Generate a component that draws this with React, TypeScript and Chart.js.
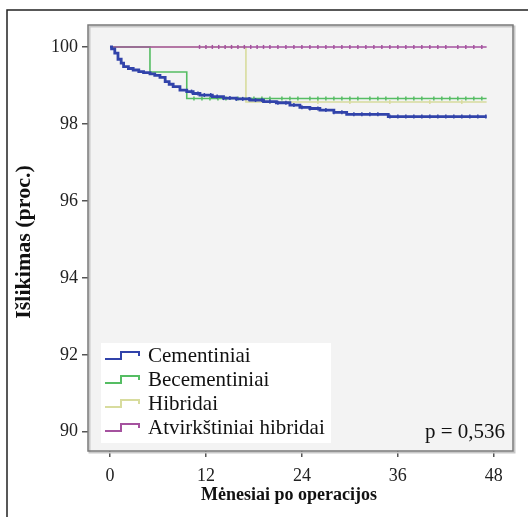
import React, { useEffect, useRef } from 'react';
import { Chart, registerables } from 'chart.js';
Chart.register(...registerables);

// ---- data ----
const xTicks = [0, 12, 24, 36, 48];
const yTicks = [90, 92, 94, 96, 98, 100];

const seriesNames = ['Cementiniai', 'Becementiniai', 'Hibridai', 'Atvirkštiniai hibridai'];
const seriesColors = ['#3143aa', '#55bd63', '#d8dc9e', '#a5529f'];

const cemMonths = [0, 0.2, 0.6, 1.0, 1.4, 1.7, 2.3, 2.9, 3.6, 4.2, 5.0, 5.6, 6.25, 6.9, 7.4, 7.9, 8.75, 9.6, 10.4, 11.25, 12.8, 14.2, 15.8, 17.5, 19.2, 20.8, 22.5, 23.75, 25.0, 26.25, 28.0, 29.6, 34.8, 47.1];
const cemSurvival = [100, 99.95, 99.84, 99.68, 99.58, 99.49, 99.44, 99.4, 99.36, 99.33, 99.3, 99.26, 99.21, 99.1, 99.03, 98.97, 98.88, 98.84, 98.79, 98.75, 98.71, 98.67, 98.65, 98.62, 98.58, 98.55, 98.49, 98.43, 98.4, 98.36, 98.3, 98.25, 98.19, 98.19];
const cemCensored = [10.2, 11, 11.8, 12.6, 13.4, 14.2, 15, 15.8, 16.6, 17.4, 18.2, 19, 20, 21, 22, 23, 24, 25, 26, 27, 28, 29, 30.5, 31.5, 32.5, 33.5, 35, 36, 37, 38, 39, 40, 41, 42, 43, 44, 45, 46, 47];

const becMonths = [0, 5, 9.6, 47.1];
const becSurvival = [100, 99.35, 98.66, 98.66];
const becCensored = [10.5, 11.5, 12.5, 13.5, 14.5, 16, 18, 19, 20, 21.5, 22.5, 23.5, 25, 26, 27, 28, 29, 30, 31, 32.5, 33.5, 34.5, 36, 37, 38, 39, 40.5, 41.5, 42.5, 43.5, 44.5, 45.5, 46.5];

const hibMonths = [0, 17, 47.1];
const hibSurvival = [100, 98.57, 98.57];
const hibCensored = [20, 26, 30, 35, 40, 44];

const atvMonths = [0, 47.1];
const atvSurvival = [100, 100];
const atvCensored = [11.2, 12, 12.8, 13.6, 14.4, 15.2, 16, 16.8, 17.6, 18.4, 19.2, 20, 21, 22, 23, 24, 25, 26, 27, 28, 29, 30, 31, 32, 33, 34, 35, 36, 37, 38, 39, 40, 41, 42, 43.5, 44.5, 45.5, 46.5];

const pValueText = 'p = 0,536';
const xTitle = 'Mėnesiai po operacijos';
const yTitle = 'Išlikimas (proc.)';

const SERIF = '"Liberation Serif", "DejaVu Serif", serif';

function stepValue(months: number[], surv: number[], t: number) {
  let v = surv[0];
  for (let i = 0; i < months.length; i++) if (months[i] <= t) v = surv[i];
  return v;
}

const allSeries = [
  { m: cemMonths, s: cemSurvival, c: cemCensored, width: 2.8, order: 0 },
  { m: becMonths, s: becSurvival, c: becCensored, width: 1.6, order: 2 },
  { m: hibMonths, s: hibSurvival, c: hibCensored, width: 1.6, order: 3 },
  { m: atvMonths, s: atvSurvival, c: atvCensored, width: 1.6, order: 1 },
];

const overlay = {
  id: 'overlay',
  beforeDraw(chart: any) {
    const { ctx, chartArea: a } = chart;
    ctx.save();
    ctx.fillStyle = '#ffffff';
    ctx.fillRect(0, 0, chart.width, chart.height);
    ctx.fillStyle = '#f3f3f3';
    ctx.fillRect(a.left, a.top, a.right - a.left, a.bottom - a.top);
    // outer frame
    ctx.strokeStyle = '#222';
    ctx.lineWidth = 1.5;
    ctx.beginPath();
    ctx.moveTo(7, chart.height);
    ctx.lineTo(7, 10);
    ctx.lineTo(chart.width, 10);
    ctx.stroke();
    ctx.restore();
  },
  afterDraw(chart: any) {
    const { ctx, chartArea: a } = chart;
    ctx.save();
    // plot box
    ctx.strokeStyle = '#c8c8c8';
    ctx.lineWidth = 2;
    ctx.strokeRect(a.left + 1.5, a.top + 1.5, a.right - a.left, a.bottom - a.top);
    ctx.strokeStyle = '#7a7a7a';
    ctx.lineWidth = 1.5;
    ctx.strokeRect(a.left, a.top, a.right - a.left, a.bottom - a.top);

    // legend
    const lx = a.left + 13;
    const ly = a.top + 318;
    ctx.fillStyle = '#ffffff';
    ctx.fillRect(lx, ly, 230, 100);
    ctx.font = `21px ${SERIF}`;
    ctx.textBaseline = 'middle';
    ctx.textAlign = 'left';
    seriesNames.forEach((name, i) => {
      const cy = ly + 12 + i * 24;
      ctx.strokeStyle = seriesColors[i];
      ctx.lineWidth = 2;
      ctx.beginPath();
      ctx.moveTo(lx + 4, cy + 4);
      ctx.lineTo(lx + 20, cy + 4);
      ctx.lineTo(lx + 20, cy - 3);
      ctx.lineTo(lx + 38, cy - 3);
      ctx.lineTo(lx + 38, cy + 1);
      ctx.stroke();
      ctx.fillStyle = '#111';
      ctx.fillText(name, lx + 47, cy + 1);
    });

    // p value
    ctx.textAlign = 'right';
    ctx.fillStyle = '#111';
    ctx.fillText(pValueText, a.right - 8, a.bottom - 19);

    // axis titles
    ctx.font = `bold 18px ${SERIF}`;
    ctx.textAlign = 'center';
    ctx.fillText(xTitle, 289, 495);
    ctx.font = `bold 22px ${SERIF}`;
    ctx.translate(24, 242);
    ctx.rotate(-Math.PI / 2);
    ctx.fillText(yTitle, 0, 0);
    ctx.restore();
  },
};

export default function App() {
  const ref = useRef<HTMLCanvasElement>(null);
  useEffect(() => {
    if (!ref.current) return;
    const datasets: any[] = [];
    allSeries.forEach((sr, i) => {
      datasets.push({
        label: seriesNames[i],
        data: sr.m.map((t, j) => ({ x: t, y: sr.s[j] })),
        borderColor: seriesColors[i],
        borderWidth: sr.width,
        stepped: 'before',
        pointRadius: 0,
        fill: false,
        order: sr.order,
      });
      datasets.push({
        label: seriesNames[i] + ' (cenzūruoti)',
        data: sr.c.map((t) => ({ x: t, y: stepValue(sr.m, sr.s, t) })),
        showLine: false,
        pointStyle: 'line',
        rotation: 90,
        pointRadius: 2,
        pointBorderWidth: 1.5,
        borderColor: seriesColors[i],
        pointBorderColor: seriesColors[i],
        order: sr.order,
      });
    });
    const chart = new Chart(ref.current, {
      type: 'line',
      data: { datasets },
      options: {
        responsive: false,
        animation: false,
        layout: { padding: { left: 0, top: 25, right: 15, bottom: 0 } },
        plugins: { legend: { display: false }, tooltip: { enabled: false } },
        scales: {
          x: {
            type: 'linear',
            min: -2.75,
            max: 50.4,
            afterBuildTicks: (s: any) => { s.ticks = xTicks.map((v) => ({ value: v })); },
            afterFit: (s: any) => { s.height = 66; },
            grid: { drawOnChartArea: false, drawTicks: true, tickLength: 6, color: '#555', lineWidth: 1.5 },
            border: { display: false },
            ticks: { font: { family: SERIF, size: 18 }, color: '#222', padding: 8, maxRotation: 0 },
          },
          y: {
            type: 'linear',
            min: 89.5,
            max: 100.57,
            afterBuildTicks: (s: any) => { s.ticks = yTicks.map((v) => ({ value: v })); },
            afterFit: (s: any) => { s.width = 88; },
            grid: { drawOnChartArea: false, drawTicks: true, tickLength: 6, color: '#555', lineWidth: 1.5 },
            border: { display: false },
            ticks: { font: { family: SERIF, size: 18 }, color: '#222', padding: 4 },
          },
        },
      },
      plugins: [overlay],
    });
    return () => chart.destroy();
  }, []);
  return (
    <div style={{ position: 'fixed', left: 0, top: 0, width: 528, height: 517, background: '#fff' }}>
      <canvas ref={ref} width={528} height={517} style={{ display: 'block' }} />
    </div>
  );
}
